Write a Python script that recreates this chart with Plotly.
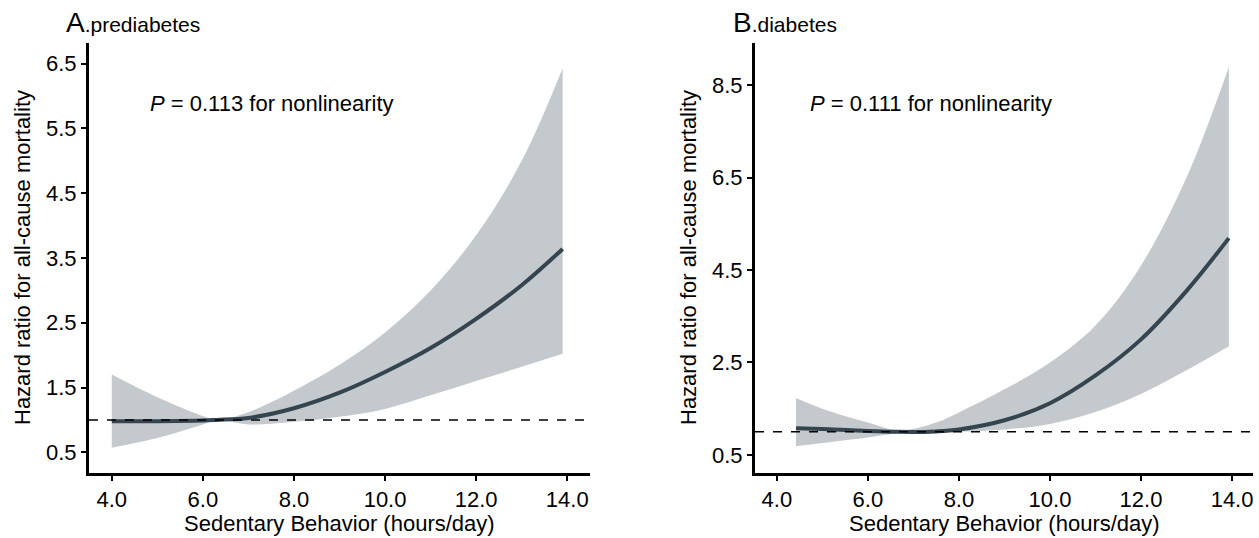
import plotly.graph_objects as go

# ---- Data ----
x_pre = [4.0, 5.0, 6.0, 6.3, 7.0, 8.0, 9.0, 10.0, 11.0, 12.0, 13.0, 13.9]
hr_pre = [0.98, 0.98, 0.99, 1.0, 1.03, 1.18, 1.42, 1.74, 2.11, 2.56, 3.08, 3.64]
up_pre = [1.70, 1.35, 1.06, 1.0, 1.12, 1.45, 1.85, 2.35, 3.0, 3.85, 5.0, 6.43]
lo_pre = [0.57, 0.72, 0.93, 1.0, 0.93, 0.97, 1.05, 1.17, 1.38, 1.6, 1.82, 2.02]

x_dia = [4.42, 5.0, 6.0, 6.7, 7.5, 8.0, 9.0, 10.0, 11.0, 12.0, 13.0, 13.93]
hr_dia = [1.08, 1.06, 1.02, 1.0, 1.01, 1.05, 1.25, 1.62, 2.22, 3.0, 4.05, 5.19]
up_dia = [1.73, 1.5, 1.2, 1.03, 1.2, 1.42, 1.92, 2.5, 3.3, 4.6, 6.5, 8.89]
lo_dia = [0.69, 0.76, 0.88, 0.97, 0.98, 1.0, 1.05, 1.17, 1.43, 1.82, 2.33, 2.85]

x_ticks = [4.0, 6.0, 8.0, 10.0, 12.0, 14.0]
y_ticks_pre = [0.5, 1.5, 2.5, 3.5, 4.5, 5.5, 6.5]
y_ticks_dia = [0.5, 2.5, 4.5, 6.5, 8.5]
ref_hr = 1.0

panel_titles = ["A", "B"]
panel_subtitles = ["prediabetes", "diabetes"]
p_texts = ["0.113", "0.111"]
x_title = "Sedentary Behavior (hours/day)"
y_title = "Hazard ratio for all-cause mortality"

# ---- Style ----
W, H = 1259, 538
FONT = "Liberation Sans, Arial, sans-serif"
LINE_COL = "#35454f"
BAND_COL = "#c4c9cd"

def px(x):
    return x / W

def py(y):
    return 1 - y / H

fig = go.Figure()

panels = [
    (x_pre, hr_pre, up_pre, lo_pre, "x", "y"),
    (x_dia, hr_dia, up_dia, lo_dia, "x2", "y2"),
]
for xs, hr, up, lo, xa, ya in panels:
    fig.add_trace(go.Scatter(x=xs, y=lo, mode="lines",
                             line=dict(width=0, color=BAND_COL, shape="spline", smoothing=1.0),
                             xaxis=xa, yaxis=ya, showlegend=False, hoverinfo="skip"))
    fig.add_trace(go.Scatter(x=xs, y=up, mode="lines",
                             line=dict(width=0, color=BAND_COL, shape="spline", smoothing=1.0),
                             fill="tonexty", fillcolor=BAND_COL,
                             xaxis=xa, yaxis=ya, showlegend=False, hoverinfo="skip"))
    fig.add_trace(go.Scatter(x=xs, y=hr, mode="lines",
                             line=dict(width=4, color=LINE_COL, shape="spline", smoothing=1.0),
                             xaxis=xa, yaxis=ya, showlegend=False))

# plot-area pixel boxes
boxA = (89, 590)
boxB = (755, 1253)
top, bottom = 43, 473
ydom = [py(bottom), py(top)]

axis_common = dict(showline=True, linewidth=3, linecolor="black", ticks="outside", ticklen=5,
                   tickwidth=2, tickcolor="black", showgrid=False, zeroline=False,
                   tickfont=dict(family=FONT, size=22, color="black"))

fig.update_layout(
    width=W, height=H,
    margin=dict(l=0, r=0, t=0, b=0),
    paper_bgcolor="white", plot_bgcolor="white",
    xaxis=dict(domain=[px(boxA[0]), px(boxA[1])], range=[3.5, 14.5], tickvals=x_ticks,
               tickformat=".1f", anchor="y", **axis_common),
    yaxis=dict(domain=ydom, range=[0.18, 6.82], tickvals=y_ticks_pre, tickformat=".1f",
               anchor="x", **axis_common),
    xaxis2=dict(domain=[px(boxB[0]), px(boxB[1])], range=[3.52, 14.46], tickvals=x_ticks,
                tickformat=".1f", anchor="y2", **axis_common),
    yaxis2=dict(domain=ydom, range=[0.11, 9.41], tickvals=y_ticks_dia, tickformat=".1f",
                anchor="x2", **axis_common),
)

for xr, yr in [("x domain", "y"), ("x2 domain", "y2")]:
    fig.add_shape(type="line", xref=xr, yref=yr, x0=0, x1=1, y0=ref_hr, y1=ref_hr,
                  line=dict(color="black", width=1.5, dash="dash"), layer="above")

ann = []
title_x = [64, 731]
p_x = [148, 808]
ytitle_x = [22, 688]
boxes = [boxA, boxB]
for i in range(2):
    ann.append(dict(xref="paper", yref="paper", x=px(title_x[i]), y=py(23), xanchor="left", yanchor="middle",
                    text=f"<span style='font-size:28px'>{panel_titles[i]}</span>.{panel_subtitles[i]}",
                    showarrow=False, font=dict(family=FONT, size=21, color="black")))
    ann.append(dict(xref="paper", yref="paper", x=px(p_x[i]), y=py(103), xanchor="left", yanchor="middle",
                    text=f"<i>P</i> = {p_texts[i]} for nonlinearity",
                    showarrow=False, font=dict(family=FONT, size=22, color="black")))
    ann.append(dict(xref="paper", yref="paper", x=px(ytitle_x[i]), y=py((top + bottom) / 2),
                    xanchor="center", yanchor="middle", textangle=-90, text=y_title,
                    showarrow=False, font=dict(family=FONT, size=22, color="black")))
    ann.append(dict(xref="paper", yref="paper", x=px((boxes[i][0] + boxes[i][1]) / 2), y=py(523),
                    xanchor="center", yanchor="middle", text=x_title,
                    showarrow=False, font=dict(family=FONT, size=22, color="black")))
fig.update_layout(annotations=ann)

fig.write_html("out.html", config={"responsive": False, "displayModeBar": False},
               post_script="document.body.style.margin='0';document.body.style.overflow='hidden';")
